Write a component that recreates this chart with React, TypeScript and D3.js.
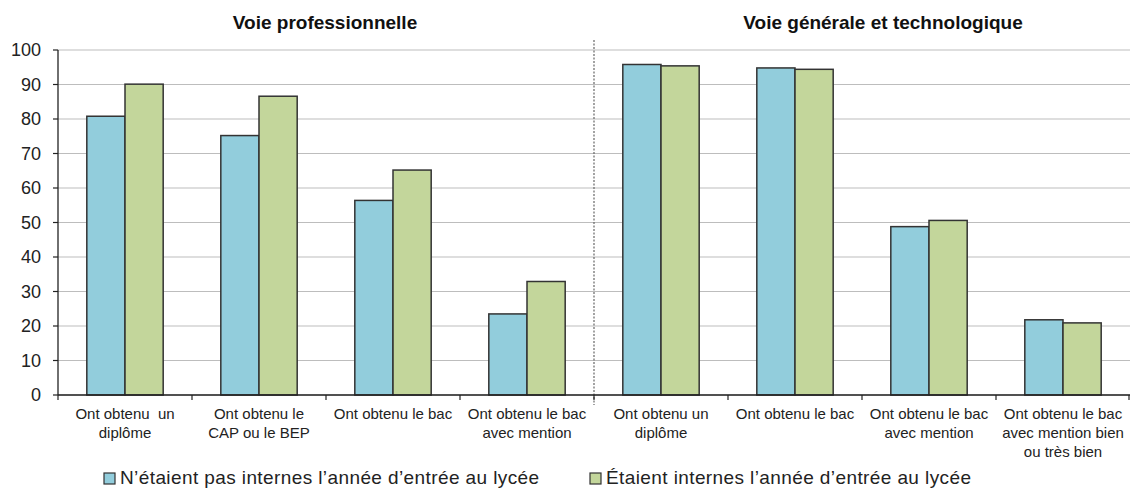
import React from "react";
import * as d3 from "d3";

const categories = [
  "Ont obtenu  un|diplôme",
  "Ont obtenu le|CAP ou le BEP",
  "Ont obtenu le bac",
  "Ont obtenu le bac|avec mention",
  "Ont obtenu un|diplôme",
  "Ont obtenu le bac",
  "Ont obtenu le bac|avec mention",
  "Ont obtenu le bac|avec mention bien|ou très bien",
];
const nonInternes = [80.8, 75.2, 56.4, 23.5, 95.8, 94.8, 48.8, 21.8];
const internes = [90.1, 86.6, 65.2, 32.9, 95.4, 94.4, 50.6, 20.9];
const seriesNames = [
  "N’étaient pas internes l’année d’entrée au lycée",
  "Étaient internes l’année d’entrée au lycée",
];
const groupTitles = ["Voie professionnelle", "Voie générale et technologique"];
const yTicks = [0, 10, 20, 30, 40, 50, 60, 70, 80, 90, 100];

const W = 1130;
const H = 490;
const colors = ["#92CDDC", "#C3D69B"];
const stroke = "#333333";

export default function App() {
  const left = 58;
  const right = 1130;
  const y = d3.scaleLinear().domain([0, 100]).range([395, 50]);
  const idx = categories.map((_, i) => String(i));
  const x0 = d3
    .scaleBand<string>()
    .domain(idx)
    .range([left, right])
    .paddingInner(0.43)
    .paddingOuter(0.215);
  const x1 = d3.scaleBand<string>().domain(["0", "1"]).range([0, x0.bandwidth()]);
  const step = x0.step();
  const boundaries = d3.range(categories.length + 1).map((i) => left + i * step);
  const series = [nonInternes, internes];
  const font = "'Liberation Sans', Arial, sans-serif";

  return (
    <svg
      width={W}
      height={H}
      style={{ position: "absolute", left: 0, top: 0, background: "#fff" }}
      fontFamily={font}
    >
      {/* gridlines */}
      {yTicks.map((t) => (
        <line
          key={"g" + t}
          x1={left}
          x2={right}
          y1={y(t)}
          y2={y(t)}
          stroke="#BDBDBD"
          strokeWidth={1.2}
        />
      ))}
      {/* divider */}
      <line
        x1={boundaries[4]}
        x2={boundaries[4]}
        y1={40}
        y2={405}
        stroke="#666"
        strokeWidth={1.2}
        strokeDasharray="2,1.5"
      />
      {/* bars */}
      {categories.map((_, i) =>
        series.map((s, k) => (
          <rect
            key={`b${i}-${k}`}
            x={(x0(String(i)) as number) + (x1(String(k)) as number)}
            y={y(s[i])}
            width={x1.bandwidth()}
            height={y(0) - y(s[i])}
            fill={colors[k]}
            stroke={stroke}
            strokeWidth={1.5}
          />
        ))
      )}
      {/* y axis */}
      <line x1={left} x2={left} y1={y(100)} y2={y(0)} stroke="#222" strokeWidth={1.3} />
      {yTicks.map((t) => (
        <g key={"yt" + t}>
          <line x1={left - 5} x2={left} y1={y(t)} y2={y(t)} stroke="#222" strokeWidth={1.2} />
          <text
            x={41}
            y={y(t)}
            dy="0.36em"
            textAnchor="end"
            fontSize={18}
            fill="#222"
          >
            {t}
          </text>
        </g>
      ))}
      {/* x axis */}
      <line x1={left} x2={right} y1={y(0)} y2={y(0)} stroke="#222" strokeWidth={1.3} />
      {boundaries.map((b, i) => (
        <line
          key={"xt" + i}
          x1={Math.min(b, right - 1)}
          x2={Math.min(b, right - 1)}
          y1={y(0)}
          y2={y(0) + 5}
          stroke="#222"
          strokeWidth={1.2}
        />
      ))}
      {categories.map((c, i) => {
        const cx = (x0(String(i)) as number) + x0.bandwidth() / 2;
        return (
          <text key={"xl" + i} textAnchor="middle" fontSize={15} fill="#222">
            {c.split("|").map((line, j) => (
              <tspan key={j} x={cx} y={419 + j * 19} style={{ whiteSpace: "pre" }}>
                {line}
              </tspan>
            ))}
          </text>
        );
      })}
      {/* titles */}
      <text x={325} y={29} textAnchor="middle" fontSize={19} fontWeight="bold" fill="#111">
        {groupTitles[0]}
      </text>
      <text x={883} y={29} textAnchor="middle" fontSize={19} fontWeight="bold" fill="#111">
        {groupTitles[1]}
      </text>
      {/* legend */}
      {[104, 590].map((lx, k) => (
        <g key={"lg" + k}>
          <rect
            x={lx}
            y={473}
            width={11}
            height={11}
            fill={colors[k]}
            stroke={stroke}
            strokeWidth={1.2}
          />
          <text x={lx + 16} y={484} fontSize={19} letterSpacing={0.4} fill="#222">
            {seriesNames[k]}
          </text>
        </g>
      ))}
    </svg>
  );
}
